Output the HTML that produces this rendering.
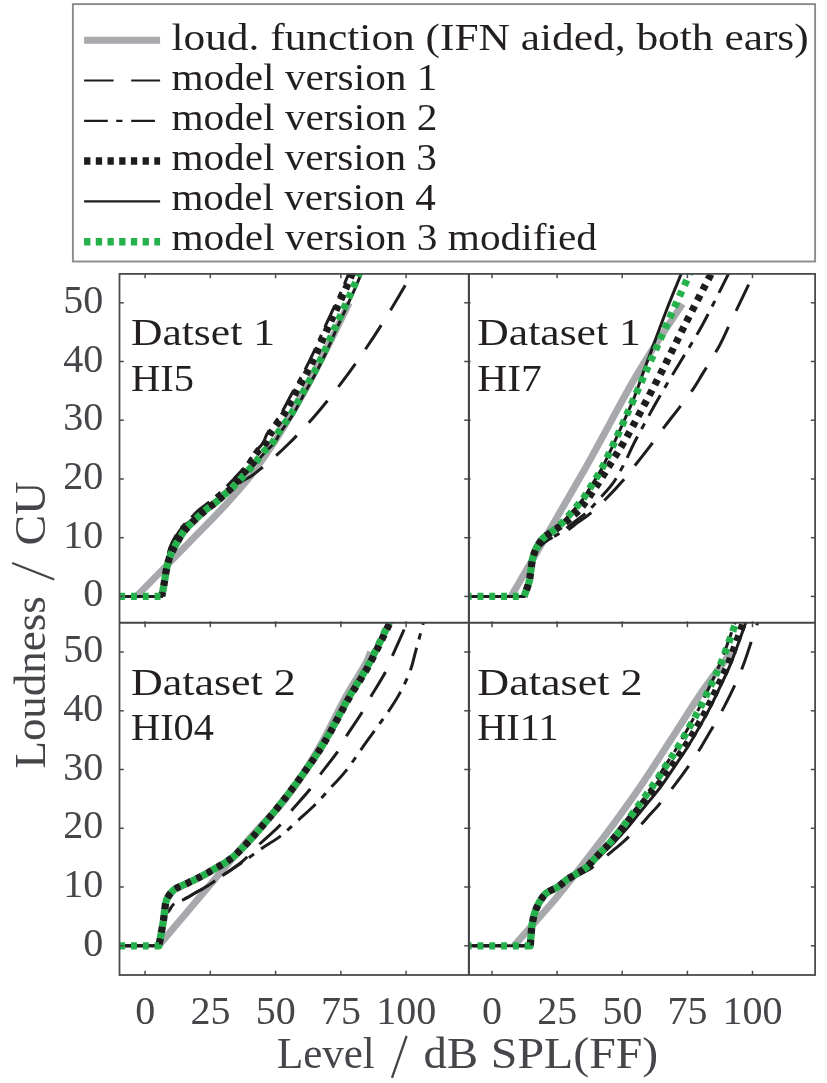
<!DOCTYPE html><html><head><meta charset="utf-8"><style>html,body{margin:0;padding:0;background:#fff;}svg{display:block;will-change:transform}</style></head><body>
<svg width="827" height="1083" viewBox="0 0 827 1083" font-family='"Liberation Serif", serif'>
<rect x="0" y="0" width="827" height="1083" fill="#fff"/>
<rect x="72.9" y="4.1" width="742.2" height="257.4" fill="#fff" stroke="#8b8c90" stroke-width="1.9"/>
<line x1="84.1" y1="40.2" x2="160.1" y2="40.2" stroke="#a7a9ac" stroke-width="7"/>
<line x1="84.1" y1="80.5" x2="160.1" y2="80.5" stroke="#1f1c1d" stroke-width="2.2" stroke-dasharray="29.5 17.6"/>
<line x1="84.1" y1="120.8" x2="160.1" y2="120.8" stroke="#1f1c1d" stroke-width="2.2" stroke-dasharray="23.7 8.4 6.3 8.7"/>
<line x1="84.1" y1="161.1" x2="160.1" y2="161.1" stroke="#1f1c1d" stroke-width="7.5" stroke-dasharray="6.3 5.4"/>
<line x1="84.1" y1="201.39999999999998" x2="160.1" y2="201.39999999999998" stroke="#1f1c1d" stroke-width="2.2"/>
<line x1="84.1" y1="241.7" x2="160.1" y2="241.7" stroke="#25b24c" stroke-width="7.5" stroke-dasharray="6.3 5.4"/>
<text x="171.4" y="50" font-size="37" fill="#231f20" textLength="637.3" lengthAdjust="spacingAndGlyphs">loud. function (IFN aided, both ears)</text>
<text x="171.4" y="90" font-size="37" fill="#231f20" textLength="266" lengthAdjust="spacingAndGlyphs">model version 1</text>
<text x="171.4" y="130" font-size="37" fill="#231f20" textLength="266" lengthAdjust="spacingAndGlyphs">model version 2</text>
<text x="171.4" y="170" font-size="37" fill="#231f20" textLength="265.5" lengthAdjust="spacingAndGlyphs">model version 3</text>
<text x="171.4" y="210" font-size="37" fill="#231f20" textLength="264.5" lengthAdjust="spacingAndGlyphs">model version 4</text>
<text x="171.4" y="250" font-size="37" fill="#231f20" textLength="425.5" lengthAdjust="spacingAndGlyphs">model version 3 modified</text>
<clipPath id="cp00"><rect x="119.5" y="273.9" width="349.4" height="348.9"/></clipPath>
<clipPath id="cp01"><rect x="468.9" y="273.9" width="346.20000000000005" height="348.9"/></clipPath>
<clipPath id="cp10"><rect x="119.5" y="622.8" width="349.4" height="352.20000000000005"/></clipPath>
<clipPath id="cp11"><rect x="468.9" y="622.8" width="346.20000000000005" height="352.20000000000005"/></clipPath>
<g clip-path="url(#cp00)" stroke-linejoin="round">
<path id="p00gray" d="M136.49,596.40C142.27,590.48 161.06,571.25 171.20,560.87C181.34,550.50 188.60,543.11 197.30,534.16C206.00,525.20 214.70,516.64 223.40,507.15C232.10,497.65 240.80,488.36 249.50,477.20C258.20,466.04 266.90,453.71 275.60,440.20C284.30,426.70 293.44,410.94 301.70,396.16C309.96,381.39 317.27,367.10 325.19,351.54C333.11,335.98 345.20,310.92 349.20,302.80" stroke="#a7a9ac" stroke-width="7" fill="none"/>
<path id="p00v1" d="M107.41,596.40L161.80,596.40C162.20,594.25 163.41,587.79 164.15,583.48C164.89,579.18 165.41,574.67 166.24,570.56C167.07,566.45 167.89,562.44 169.11,558.82C170.33,555.20 171.46,552.85 173.55,548.84C175.64,544.82 179.12,538.56 181.64,534.74C184.16,530.93 186.03,528.82 188.69,525.94C191.34,523.05 194.65,520.16 197.56,517.42C200.48,514.68 203.17,511.99 206.17,509.49C209.18,507.00 212.57,504.89 215.57,502.45C218.57,500.00 221.57,497.07 224.18,494.81C226.79,492.56 228.32,491.16 231.23,488.94C234.14,486.72 238.19,483.74 241.67,481.50C245.15,479.26 248.63,477.85 252.11,475.49C255.59,473.12 258.63,470.54 262.55,467.31C266.46,464.08 271.25,460.02 275.60,456.10C279.95,452.18 284.30,448.08 288.65,443.80C293.00,439.52 297.35,435.05 301.70,430.41C306.05,425.76 310.40,420.93 314.75,415.92C319.10,410.91 323.45,405.71 327.80,400.34C332.15,394.96 336.50,389.40 340.85,383.66C345.20,377.92 349.55,372.00 353.90,365.89C358.25,359.79 362.60,353.50 366.95,347.03C371.30,340.56 375.65,333.91 380.00,327.08C384.35,320.24 388.70,313.23 393.05,306.03C397.40,298.83 402.62,289.88 406.10,283.88C409.58,277.89 412.62,272.38 413.93,270.07" stroke="#1f1c1d" stroke-width="3" fill="none" stroke-dasharray="28.8 17.6" stroke-dashoffset="34.70"/>
<path id="p00v2" d="M107.41,596.40L161.80,596.40C162.20,594.25 163.41,587.79 164.15,583.48C164.89,579.18 165.54,574.67 166.24,570.56C166.94,566.45 167.80,562.44 168.36,558.82C168.92,555.20 168.27,552.85 169.60,548.84C170.93,544.82 174.12,538.56 176.35,534.74C178.57,530.93 180.45,528.82 182.94,525.94C185.44,523.05 188.56,520.16 191.31,517.42C194.07,514.68 196.55,511.99 199.46,509.49C202.37,507.00 205.79,504.89 208.78,502.45C211.77,500.00 214.53,497.36 217.40,494.81C220.27,492.27 223.27,489.82 226.01,487.18C228.75,484.54 231.27,481.70 233.84,478.96C236.41,476.22 238.98,473.58 241.41,470.74C243.84,467.90 246.13,465.06 248.43,461.93C250.73,458.80 252.81,455.08 255.22,451.95C257.64,448.82 260.82,446.37 262.92,443.14C265.03,439.91 264.89,437.37 267.83,432.57C270.77,427.78 276.52,420.93 280.56,414.37C284.59,407.81 288.22,400.18 292.04,393.23C295.87,386.28 299.92,379.53 303.53,372.68C307.14,365.83 310.49,358.98 313.71,352.12C316.92,345.27 319.75,338.42 322.84,331.57C325.93,324.72 328.97,318.17 332.24,311.02C335.50,303.88 339.46,295.46 342.42,288.71C345.37,281.95 348.72,273.54 349.99,270.50" stroke="#1f1c1d" stroke-width="3" fill="none" stroke-dasharray="23.7 8.4 6.3 8.7"/>
<path d="M161.80,596.40C162.20,594.25 163.41,587.79 164.15,583.48C164.89,579.18 165.41,574.67 166.24,570.56C167.07,566.45 167.89,562.44 169.11,558.82C170.33,555.20 171.46,552.85 173.55,548.84C175.64,544.82 179.12,538.56 181.64,534.74C184.16,530.93 186.03,528.82 188.69,525.94C191.34,523.05 194.65,520.16 197.56,517.42C200.48,514.68 203.17,511.99 206.17,509.49C209.18,507.00 212.57,504.89 215.57,502.45C218.57,500.00 221.41,497.36 224.18,494.81C226.95,492.27 229.79,489.82 232.20,487.18C234.60,484.54 236.53,481.70 238.62,478.96C240.72,476.22 242.75,473.58 244.79,470.74C246.83,467.90 248.75,465.06 250.86,461.93C252.97,458.80 254.97,455.08 257.43,451.95C259.90,448.82 263.36,446.37 265.66,443.14C267.95,439.91 268.14,437.37 271.19,432.57C274.24,427.78 279.91,420.93 283.95,414.37C287.99,407.81 291.61,400.18 295.44,393.23C299.26,386.28 303.31,379.53 306.92,372.68C310.53,365.83 313.88,358.98 317.10,352.12C320.32,345.27 323.15,338.42 326.23,331.57C329.32,324.72 332.37,318.17 335.63,311.02C338.89,303.88 342.85,295.46 345.81,288.71C348.77,281.95 352.12,273.54 353.38,270.50" stroke="#1f1c1d" stroke-width="7.3" fill="none" stroke-dasharray="5.9 5.9" stroke-dashoffset="1.29"/>
<path id="p00v4" d="M107.41,596.40L161.80,596.40C162.20,594.25 163.41,587.79 164.15,583.48C164.89,579.18 165.54,574.67 166.24,570.56C166.94,566.45 167.80,562.44 168.36,558.82C168.92,555.20 168.17,552.85 169.60,548.84C171.03,544.82 174.54,538.56 176.94,534.74C179.34,530.93 180.96,528.82 183.99,525.94C187.02,523.05 191.49,520.16 195.13,517.42C198.78,514.68 202.45,511.99 205.86,509.49C209.27,507.00 212.52,504.89 215.57,502.45C218.62,500.00 221.31,497.36 224.18,494.81C227.05,492.27 230.06,489.82 232.80,487.18C235.54,484.54 237.98,481.70 240.63,478.96C243.27,476.22 245.99,473.58 248.68,470.74C251.37,467.90 254.02,465.06 256.77,461.93C259.53,458.80 262.27,455.08 265.19,451.95C268.12,448.82 271.78,446.37 274.29,443.14C276.81,439.91 277.17,437.37 280.30,432.57C283.43,427.78 289.04,420.93 293.09,414.37C297.13,407.81 300.74,400.18 304.57,393.23C308.40,386.28 312.44,379.53 316.05,372.68C319.67,365.83 323.01,358.98 326.23,352.12C329.45,345.27 332.28,338.42 335.37,331.57C338.46,324.72 341.50,318.17 344.76,311.02C348.03,303.88 351.99,295.46 354.94,288.71C357.90,281.95 361.25,273.54 362.51,270.50" stroke="#1f1c1d" stroke-width="3" fill="none"/>
<path id="p00v3m" d="M107.41,596.40L161.80,596.40C162.20,594.25 163.41,587.79 164.15,583.48C164.89,579.18 165.41,574.67 166.24,570.56C167.07,566.45 167.89,562.44 169.11,558.82C170.33,555.20 171.46,552.85 173.55,548.84C175.64,544.82 179.12,538.56 181.64,534.74C184.16,530.93 186.03,528.82 188.69,525.94C191.34,523.05 194.65,520.16 197.56,517.42C200.48,514.68 203.17,511.99 206.17,509.49C209.18,507.00 212.57,504.89 215.57,502.45C218.57,500.00 221.31,497.36 224.18,494.81C227.05,492.27 230.06,489.82 232.80,487.18C235.54,484.54 238.06,481.70 240.63,478.96C243.19,476.22 245.67,473.58 248.19,470.74C250.72,467.90 253.20,465.06 255.76,461.93C258.33,458.80 260.85,455.08 263.59,451.95C266.33,448.82 269.77,446.37 272.21,443.14C274.64,439.91 275.08,437.37 278.21,432.57C281.34,427.78 286.95,420.93 291.00,414.37C295.04,407.81 298.65,400.18 302.48,393.23C306.31,386.28 310.36,379.53 313.97,372.68C317.58,365.83 320.93,358.98 324.15,352.12C327.36,345.27 330.19,338.42 333.28,331.57C336.37,324.72 339.41,318.17 342.68,311.02C345.94,303.88 349.90,295.46 352.86,288.71C355.81,281.95 359.16,273.54 360.42,270.50" stroke="#25b24c" stroke-width="7.3" fill="none" stroke-dasharray="5.9 5.9"/>
</g>
<g clip-path="url(#cp01)" stroke-linejoin="round">
<path id="p01gray" d="M511.02,596.40C523.22,575.36 563.16,507.24 584.22,470.15C605.27,433.06 620.99,401.55 637.36,373.85C653.73,346.15 674.91,315.62 682.43,303.97" stroke="#a7a9ac" stroke-width="7" fill="none"/>
<path id="p01v1" d="M460.74,596.40L524.04,596.40C524.87,594.05 527.86,586.61 528.99,582.31C530.12,578.00 530.12,574.48 530.81,570.56C531.51,566.65 532.03,562.34 533.16,558.82C534.29,555.30 535.72,552.16 537.59,549.42C539.45,546.68 541.97,544.33 544.36,542.38C546.75,540.42 549.35,539.15 551.91,537.68C554.48,536.21 557.08,534.84 559.73,533.57C562.38,532.30 564.77,531.91 567.81,530.05C570.84,528.19 574.36,525.06 577.97,522.41C581.57,519.77 584.87,518.01 589.43,514.19C593.99,510.38 599.76,505.09 605.32,499.51C610.87,493.93 617.91,486.30 622.77,480.72C627.63,475.14 629.93,471.82 634.49,466.04C639.05,460.27 645.04,452.73 650.12,446.08C655.20,439.42 660.07,432.57 664.97,426.11C669.88,419.65 674.87,413.49 679.56,407.32C684.25,401.16 689.29,394.70 693.11,389.12C696.93,383.54 698.10,381.09 702.48,373.85C706.87,366.61 714.81,354.08 719.42,345.67C724.02,337.25 725.41,333.14 730.10,323.35C734.79,313.57 743.38,295.75 747.55,286.95C751.72,278.14 753.85,273.24 755.11,270.50" stroke="#1f1c1d" stroke-width="3" fill="none" stroke-dasharray="28.8 17.6" stroke-dashoffset="36.10"/>
<path id="p01v2" d="M460.74,596.40L524.04,596.40C524.87,594.05 527.86,586.61 528.99,582.31C530.12,578.00 530.12,574.48 530.81,570.56C531.51,566.65 532.03,562.34 533.16,558.82C534.29,555.30 535.72,552.16 537.59,549.42C539.45,546.68 541.97,544.33 544.36,542.38C546.75,540.42 549.35,539.25 551.91,537.68C554.48,536.11 557.34,534.55 559.73,532.98C562.12,531.42 563.64,530.24 566.24,528.28C568.85,526.33 571.76,524.08 575.36,521.24C578.96,518.40 583.96,514.88 587.86,511.26C591.77,507.63 594.68,504.11 598.80,499.51C602.93,494.91 608.53,489.33 612.61,483.66C616.69,477.98 619.51,472.60 623.29,465.45C627.07,458.31 630.89,449.31 635.27,440.79C639.66,432.28 644.83,422.98 649.60,414.37C654.38,405.76 658.72,398.02 663.93,389.12C669.14,380.21 674.52,371.50 680.86,360.93C687.20,350.36 694.23,339.79 701.96,325.70C709.69,311.61 722.28,286.06 727.23,276.38C732.18,266.69 730.92,269.04 731.66,267.57" stroke="#1f1c1d" stroke-width="3" fill="none" stroke-dasharray="23.7 8.4 6.3 8.7" stroke-dashoffset="39.80"/>
<path d="M524.04,596.40C524.87,594.05 527.86,586.61 528.99,582.31C530.12,578.00 530.21,574.48 530.81,570.56C531.42,566.65 531.73,562.54 532.64,558.82C533.55,555.10 534.64,551.58 536.28,548.25C537.93,544.92 539.98,541.59 542.54,538.85C545.10,536.11 548.62,533.96 551.65,531.81C554.69,529.65 557.91,527.99 560.77,525.94C563.64,523.88 566.29,521.63 568.85,519.48C571.41,517.32 573.71,515.46 576.14,513.02C578.57,510.57 580.22,509.01 583.44,504.80C586.65,500.59 591.03,494.42 595.42,487.77C599.80,481.11 604.93,472.60 609.75,464.87C614.57,457.14 619.12,450.38 624.33,441.38C629.54,432.38 634.62,422.78 641.01,410.84C647.39,398.91 655.33,384.03 662.63,369.74C669.92,355.45 676.91,340.67 684.77,325.11C692.63,309.55 705.00,285.67 709.78,276.38C714.55,267.08 712.82,270.50 713.42,269.33" stroke="#1f1c1d" stroke-width="7.3" fill="none" stroke-dasharray="5.9 5.9" stroke-dashoffset="5.25"/>
<path id="p01v4" d="M465.69,596.40L524.04,596.40C524.87,594.05 527.86,586.61 528.99,582.31C530.12,578.00 530.21,574.48 530.81,570.56C531.42,566.65 531.73,562.54 532.64,558.82C533.55,555.10 534.64,551.58 536.28,548.25C537.93,544.92 539.98,541.59 542.54,538.85C545.10,536.11 548.62,534.25 551.65,531.81C554.69,529.36 557.91,526.91 560.77,524.17C563.64,521.43 566.29,518.20 568.85,515.37C571.41,512.53 573.71,509.98 576.14,507.15C578.57,504.31 581.18,501.47 583.44,498.34C585.69,495.21 587.60,491.68 589.69,488.36C591.77,485.03 593.81,481.90 595.94,478.37C598.07,474.85 599.67,472.60 602.45,467.22C605.23,461.83 609.31,453.12 612.61,446.08C615.91,439.03 619.34,431.40 622.25,424.94C625.16,418.48 628.02,412.02 630.07,407.32C632.11,402.62 632.24,402.72 634.49,396.75C636.75,390.78 640.75,379.33 643.61,371.50C646.48,363.67 647.78,360.25 651.69,349.78C655.59,339.30 662.15,321.30 667.06,308.67C671.96,296.05 678.39,280.88 681.12,274.03C683.86,267.18 683.08,268.64 683.47,267.57" stroke="#1f1c1d" stroke-width="3" fill="none"/>
<path id="p01v3m" d="M465.69,596.40L524.04,596.40C524.87,594.05 527.86,586.61 528.99,582.31C530.12,578.00 530.21,574.48 530.81,570.56C531.42,566.65 531.73,562.54 532.64,558.82C533.55,555.10 534.64,551.58 536.28,548.25C537.93,544.92 539.98,541.59 542.54,538.85C545.10,536.11 548.62,534.25 551.65,531.81C554.69,529.36 557.91,526.91 560.77,524.17C563.64,521.43 566.29,518.20 568.85,515.37C571.41,512.53 573.71,509.98 576.14,507.15C578.57,504.31 581.18,501.47 583.44,498.34C585.69,495.21 587.60,491.68 589.69,488.36C591.77,485.03 593.81,481.90 595.94,478.37C598.07,474.85 599.67,472.60 602.45,467.22C605.23,461.83 609.31,453.12 612.61,446.08C615.91,439.03 619.34,431.40 622.25,424.94C625.16,418.48 626.16,416.13 630.07,407.32C633.97,398.51 640.48,383.83 645.69,372.09C650.90,360.35 656.55,347.62 661.33,336.86C666.10,326.09 669.92,317.38 674.35,307.50C678.78,297.61 685.29,283.72 687.90,277.55C690.50,271.38 689.63,271.68 689.98,270.50" stroke="#25b24c" stroke-width="7.3" fill="none" stroke-dasharray="5.9 5.9"/>
</g>
<g clip-path="url(#cp10)" stroke-linejoin="round">
<path id="p10gray" d="M158.67,945.80C173.59,928.17 227.84,863.54 248.19,840.03C268.55,816.53 271.90,815.45 280.82,804.78C289.74,794.10 294.83,786.36 301.70,775.98C308.57,765.60 314.75,755.61 322.06,742.49C329.37,729.37 338.46,710.07 345.55,697.25C352.64,684.42 360.43,673.06 364.60,665.51C368.78,657.97 369.60,654.25 370.60,652.00" stroke="#a7a9ac" stroke-width="7" fill="none"/>
<path id="p10v1" d="M113.78,945.80L158.93,945.80C159.32,943.65 160.54,936.79 161.28,932.87C162.02,928.96 162.59,925.53 163.37,922.30C164.15,919.06 165.07,915.34 165.98,913.48C166.89,911.62 167.55,912.70 168.85,911.13C170.16,909.56 171.29,906.04 173.81,904.08C176.33,902.12 180.07,901.44 183.99,899.38C187.90,897.32 193.34,893.99 197.30,891.74C201.26,889.49 203.17,888.80 207.74,885.86C212.31,882.93 218.79,878.32 224.70,874.11C230.62,869.90 237.54,865.49 243.24,860.60C248.93,855.70 252.89,850.51 258.90,844.73C264.90,838.95 273.90,831.51 279.25,825.93C284.60,820.35 285.91,817.31 291.00,811.24C296.09,805.17 304.96,795.57 309.79,789.50C314.62,783.43 315.36,781.08 319.97,774.81C324.58,768.54 333.11,758.26 337.46,751.89C341.81,745.53 341.98,743.18 346.07,736.61C350.16,730.05 357.86,719.18 361.99,712.52C366.12,705.86 366.99,703.32 370.87,696.66C374.74,690.00 381.61,679.42 385.22,672.57C388.83,665.71 389.35,662.77 392.53,655.53C395.70,648.28 401.79,635.06 404.27,629.08C406.75,623.11 406.88,621.25 407.40,619.68" stroke="#1f1c1d" stroke-width="3" fill="none" stroke-dasharray="28.8 17.6" stroke-dashoffset="36.10"/>
<path id="p10v2" d="M113.78,945.80L158.93,945.80C159.32,943.65 160.54,936.79 161.28,932.87C162.02,928.96 162.59,925.53 163.37,922.30C164.15,919.06 165.07,915.34 165.98,913.48C166.89,911.62 167.55,912.70 168.85,911.13C170.16,909.56 171.29,906.04 173.81,904.08C176.33,902.12 180.07,901.44 183.99,899.38C187.90,897.32 193.34,893.99 197.30,891.74C201.26,889.49 203.17,888.80 207.74,885.86C212.31,882.93 218.79,878.13 224.70,874.11C230.62,870.10 237.02,866.08 243.24,861.77C249.46,857.46 255.76,852.57 262.03,848.26C268.29,843.95 274.77,840.62 280.82,835.92C286.87,831.22 292.52,825.34 298.31,820.05C304.09,814.77 309.97,809.77 315.53,804.19C321.10,798.61 326.63,792.14 331.71,786.56C336.80,780.98 340.28,778.14 346.07,770.70C351.86,763.25 359.42,751.70 366.43,741.90C373.43,732.11 382.52,720.06 388.09,711.94C393.66,703.81 396.18,699.89 399.84,693.13C403.49,686.37 407.36,678.44 410.01,671.39C412.67,664.34 413.58,658.76 415.76,650.82C417.93,642.89 421.63,629.48 423.06,623.80C424.50,618.12 424.15,617.92 424.37,616.74" stroke="#1f1c1d" stroke-width="3" fill="none" stroke-dasharray="23.7 8.4 6.3 8.7" stroke-dashoffset="41.40"/>
<path d="M158.93,945.80C159.32,943.65 160.54,936.99 161.28,932.87C162.02,928.76 162.80,924.84 163.37,921.12C163.94,917.40 164.11,914.17 164.67,910.54C165.24,906.92 165.24,902.81 166.76,899.38C168.29,895.95 170.94,892.43 173.81,889.98C176.68,887.53 180.60,886.35 183.99,884.69C187.38,883.02 190.78,881.65 194.17,879.99C197.56,878.32 200.95,876.56 204.35,874.70C207.74,872.84 211.13,870.78 214.53,868.82C217.92,866.87 221.40,865.10 224.70,862.95C228.01,860.79 230.88,858.93 234.36,855.90C237.84,852.86 241.50,849.04 245.58,844.73C249.67,840.42 253.02,836.90 258.90,830.04C264.77,823.19 273.56,812.81 280.82,803.60C288.08,794.40 295.23,784.99 302.48,774.81C309.73,764.62 316.50,755.42 324.33,742.49C332.15,729.56 342.03,710.07 349.42,697.25C356.82,684.42 362.11,677.56 368.69,665.51C375.26,653.47 385.12,632.61 388.87,624.97C392.63,617.33 390.83,620.56 391.22,619.68" stroke="#1f1c1d" stroke-width="7.3" fill="none" stroke-dasharray="5.9 5.9" stroke-dashoffset="10.22"/>
<path id="p10v4" d="M107.41,945.80L158.93,945.80C159.32,943.65 160.54,936.99 161.28,932.87C162.02,928.76 162.80,924.84 163.37,921.12C163.94,917.40 164.11,914.17 164.67,910.54C165.24,906.92 165.24,902.81 166.76,899.38C168.29,895.95 170.94,892.43 173.81,889.98C176.68,887.53 180.60,886.35 183.99,884.69C187.38,883.02 190.78,881.65 194.17,879.99C197.56,878.32 200.95,876.56 204.35,874.70C207.74,872.84 211.13,870.78 214.53,868.82C217.92,866.87 221.40,865.10 224.70,862.95C228.01,860.79 230.88,858.93 234.36,855.90C237.84,852.86 241.50,849.04 245.58,844.73C249.67,840.42 253.02,836.90 258.90,830.04C264.77,823.19 273.56,812.81 280.82,803.60C288.08,794.40 295.20,784.99 302.48,774.81C309.76,764.62 316.60,755.42 324.51,742.49C332.41,729.56 342.43,710.07 349.90,697.25C357.38,684.42 362.75,677.56 369.38,665.51C376.01,653.47 385.89,632.61 389.66,624.97C393.43,617.33 391.61,620.56 392.01,619.68" stroke="#1f1c1d" stroke-width="3" fill="none"/>
<path id="p10v3m" d="M107.41,945.80L158.93,945.80C159.32,943.65 160.54,936.99 161.28,932.87C162.02,928.76 162.80,924.84 163.37,921.12C163.94,917.40 164.11,914.17 164.67,910.54C165.24,906.92 165.24,902.81 166.76,899.38C168.29,895.95 170.94,892.43 173.81,889.98C176.68,887.53 180.60,886.35 183.99,884.69C187.38,883.02 190.78,881.65 194.17,879.99C197.56,878.32 200.95,876.56 204.35,874.70C207.74,872.84 211.13,870.78 214.53,868.82C217.92,866.87 221.40,865.10 224.70,862.95C228.01,860.79 230.88,858.93 234.36,855.90C237.84,852.86 241.50,849.04 245.58,844.73C249.67,840.42 253.02,836.90 258.90,830.04C264.77,823.19 273.56,812.81 280.82,803.60C288.08,794.40 295.26,784.99 302.48,774.81C309.70,764.62 316.40,755.42 324.15,742.49C331.89,729.56 341.63,710.07 348.94,697.25C356.25,684.42 361.47,677.56 367.99,665.51C374.52,653.47 384.35,632.61 388.09,624.97C391.83,617.33 390.05,620.56 390.44,619.68" stroke="#25b24c" stroke-width="7.3" fill="none" stroke-dasharray="5.9 5.9"/>
</g>
<g clip-path="url(#cp11)" stroke-linejoin="round">
<path id="p11gray" d="M513.88,945.80C520.65,938.16 542.93,913.68 554.52,899.97C566.11,886.26 573.75,875.97 583.44,863.54C593.12,851.10 602.93,838.47 612.61,825.34C622.29,812.22 631.67,799.29 641.53,784.80C651.38,770.30 661.50,754.14 671.75,738.38C681.99,722.61 693.02,704.59 703.00,690.19C712.99,675.80 726.88,658.37 731.66,652.00" stroke="#a7a9ac" stroke-width="7" fill="none"/>
<path id="p11v1" d="M465.69,945.80L530.29,945.80C530.42,944.04 530.77,938.75 531.08,935.22C531.38,931.70 531.51,928.37 532.12,924.65C532.72,920.92 533.46,916.71 534.72,912.89C535.98,909.07 537.67,905.06 539.67,901.73C541.67,898.40 543.49,895.36 546.71,892.92C549.92,890.47 555.17,889.19 558.95,887.04C562.73,884.89 565.80,882.14 569.37,879.99C572.94,877.83 576.59,876.17 580.36,874.11C584.13,872.06 588.33,870.10 591.98,867.65C595.63,865.20 598.77,862.26 602.24,859.42C605.72,856.58 609.41,853.45 612.82,850.61C616.23,847.77 619.50,845.22 622.70,842.38C625.90,839.54 628.90,836.60 632.02,833.57C635.13,830.53 638.43,827.30 641.40,824.17C644.36,821.03 646.97,817.90 649.80,814.77C652.63,811.63 654.42,810.06 658.36,805.36C662.31,800.66 668.51,793.02 673.49,786.56C678.46,780.10 683.62,773.14 688.20,766.58C692.78,760.02 696.85,753.85 700.99,747.19C705.13,740.53 709.14,733.38 713.02,726.63C716.89,719.87 720.64,713.50 724.25,706.65C727.87,699.79 731.39,692.84 734.73,685.49C738.06,678.15 740.94,671.59 744.25,662.58C747.56,653.57 752.17,638.58 754.58,631.43C757.00,624.28 758.06,621.64 758.75,619.68" stroke="#1f1c1d" stroke-width="3" fill="none" stroke-dasharray="28.8 17.6" stroke-dashoffset="39.20"/>
<path id="p11v2" d="M465.69,945.80L530.29,945.80C530.42,944.04 530.77,938.75 531.08,935.22C531.38,931.70 531.51,928.37 532.12,924.65C532.72,920.92 533.46,916.71 534.72,912.89C535.98,909.07 537.67,905.06 539.67,901.73C541.67,898.40 543.59,895.36 546.71,892.92C549.82,890.47 554.79,889.19 558.34,887.04C561.90,884.89 564.71,882.14 568.03,879.99C571.35,877.83 574.87,876.17 578.25,874.11C581.63,872.06 585.24,870.10 588.29,867.65C591.34,865.20 593.77,862.26 596.55,859.42C599.33,856.58 602.37,853.45 604.97,850.61C607.56,847.77 609.84,845.22 612.14,842.38C614.44,839.54 616.52,836.60 618.75,833.57C620.98,830.53 623.31,827.30 625.53,824.17C627.74,821.03 629.83,817.90 632.05,814.77C634.27,811.63 635.53,810.06 638.83,805.36C642.14,800.66 647.57,793.02 651.88,786.56C656.19,780.10 660.49,773.14 664.71,766.58C668.93,760.02 673.18,753.85 677.22,747.19C681.25,740.53 685.16,733.38 688.94,726.63C692.72,719.87 696.36,713.50 699.88,706.65C703.40,699.79 706.61,692.84 710.04,685.49C713.47,678.15 716.81,671.59 720.46,662.58C724.11,653.57 729.32,638.58 731.92,631.43C734.53,624.28 735.39,621.64 736.09,619.68" stroke="#1f1c1d" stroke-width="3" fill="none" stroke-dasharray="23.7 8.4 6.3 8.7"/>
<path d="M530.29,945.80C530.42,944.04 530.77,938.75 531.08,935.22C531.38,931.70 531.51,928.37 532.12,924.65C532.72,920.92 533.46,916.71 534.72,912.89C535.98,909.07 537.67,905.06 539.67,901.73C541.67,898.40 543.71,895.36 546.71,892.92C549.70,890.47 554.35,889.19 557.65,887.04C560.95,884.89 563.42,882.14 566.50,879.99C569.59,877.83 572.89,876.17 576.14,874.11C579.40,872.06 583.04,870.10 586.04,867.65C589.04,865.20 591.38,862.26 594.12,859.42C596.85,856.58 599.76,853.45 602.45,850.61C605.14,847.77 607.75,845.22 610.27,842.38C612.79,839.54 615.05,836.60 617.56,833.57C620.07,830.53 622.73,827.30 625.34,824.17C627.95,821.03 630.54,817.90 633.21,814.77C635.88,811.63 637.37,810.06 641.35,805.36C645.32,800.66 652.07,793.02 657.05,786.56C662.04,780.10 666.67,773.14 671.27,766.58C675.87,760.02 680.34,753.85 684.68,747.19C689.01,740.53 693.35,733.38 697.27,726.63C701.20,719.87 704.70,713.50 708.22,706.65C711.73,699.79 714.94,692.84 718.37,685.49C721.80,678.15 725.15,671.59 728.79,662.58C732.44,653.57 737.65,638.58 740.26,631.43C742.86,624.28 743.73,621.64 744.42,619.68" stroke="#1f1c1d" stroke-width="7.3" fill="none" stroke-dasharray="5.9 5.9" stroke-dashoffset="11.50"/>
<path id="p11v4" d="M465.69,945.80L530.29,945.80C530.42,944.04 530.77,938.75 531.08,935.22C531.38,931.70 531.51,928.37 532.12,924.65C532.72,920.92 533.46,916.71 534.72,912.89C535.98,909.07 537.67,905.06 539.67,901.73C541.67,898.40 543.71,895.36 546.71,892.92C549.70,890.47 554.35,889.19 557.65,887.04C560.95,884.89 563.39,882.14 566.50,879.99C569.61,877.83 572.87,876.17 576.30,874.11C579.72,872.06 583.74,870.10 587.06,867.65C590.38,865.20 593.12,862.26 596.23,859.42C599.33,856.58 602.68,853.45 605.68,850.61C608.68,847.77 611.46,845.22 614.23,842.38C617.00,839.54 619.61,836.60 622.30,833.57C625.00,830.53 627.80,827.30 630.40,824.17C633.01,821.03 635.39,817.90 637.95,814.77C640.51,811.63 641.95,810.06 645.76,805.36C649.57,800.66 656.02,793.02 660.82,786.56C665.61,780.10 670.10,773.14 674.55,766.58C678.99,760.02 683.30,753.85 687.48,747.19C691.66,740.53 695.77,733.38 699.62,726.63C703.47,719.87 707.04,713.50 710.56,706.65C714.08,699.79 717.29,692.84 720.72,685.49C724.15,678.15 727.49,671.59 731.14,662.58C734.79,653.57 740.00,638.58 742.60,631.43C745.21,624.28 746.07,621.64 746.77,619.68" stroke="#1f1c1d" stroke-width="3" fill="none"/>
<path id="p11v3m" d="M465.69,945.80L530.29,945.80C530.42,944.04 530.77,938.75 531.08,935.22C531.38,931.70 531.51,928.37 532.12,924.65C532.72,920.92 533.46,916.71 534.72,912.89C535.98,909.07 537.67,905.06 539.67,901.73C541.67,898.40 543.71,895.36 546.71,892.92C549.70,890.47 554.35,889.19 557.65,887.04C560.95,884.89 563.42,882.14 566.50,879.99C569.59,877.83 572.89,876.17 576.14,874.11C579.40,872.06 583.04,870.10 586.04,867.65C589.04,865.20 591.38,862.26 594.12,859.42C596.85,856.58 599.76,853.45 602.45,850.61C605.14,847.77 607.75,845.22 610.27,842.38C612.79,839.54 615.13,836.60 617.56,833.57C619.99,830.53 622.51,827.30 624.86,824.17C627.20,821.03 629.33,817.90 631.63,814.77C633.93,811.63 635.23,810.06 638.66,805.36C642.09,800.66 647.74,793.02 652.21,786.56C656.68,780.10 661.19,773.14 665.49,766.58C669.79,760.02 673.96,753.85 678.00,747.19C682.03,740.53 685.94,733.38 689.72,726.63C693.50,719.87 697.14,713.50 700.66,706.65C704.18,699.79 707.39,692.84 710.82,685.49C714.25,678.15 717.59,671.59 721.24,662.58C724.89,653.57 730.10,638.58 732.70,631.43C735.31,624.28 736.18,621.64 736.87,619.68" stroke="#25b24c" stroke-width="7.3" fill="none" stroke-dasharray="5.9 5.9"/>
</g>
<line x1="145.1" y1="273.9" x2="145.1" y2="278.2" stroke="#4a4b4f" stroke-width="1.5"/>
<line x1="145.1" y1="975.0" x2="145.1" y2="970.7" stroke="#4a4b4f" stroke-width="1.5"/>
<line x1="145.1" y1="621.3" x2="145.1" y2="627.2" stroke="#4a4b4f" stroke-width="1.5"/>
<line x1="210.3" y1="273.9" x2="210.3" y2="278.2" stroke="#4a4b4f" stroke-width="1.5"/>
<line x1="210.3" y1="975.0" x2="210.3" y2="970.7" stroke="#4a4b4f" stroke-width="1.5"/>
<line x1="210.3" y1="621.3" x2="210.3" y2="627.2" stroke="#4a4b4f" stroke-width="1.5"/>
<line x1="275.6" y1="273.9" x2="275.6" y2="278.2" stroke="#4a4b4f" stroke-width="1.5"/>
<line x1="275.6" y1="975.0" x2="275.6" y2="970.7" stroke="#4a4b4f" stroke-width="1.5"/>
<line x1="275.6" y1="621.3" x2="275.6" y2="627.2" stroke="#4a4b4f" stroke-width="1.5"/>
<line x1="340.9" y1="273.9" x2="340.9" y2="278.2" stroke="#4a4b4f" stroke-width="1.5"/>
<line x1="340.9" y1="975.0" x2="340.9" y2="970.7" stroke="#4a4b4f" stroke-width="1.5"/>
<line x1="340.9" y1="621.3" x2="340.9" y2="627.2" stroke="#4a4b4f" stroke-width="1.5"/>
<line x1="406.1" y1="273.9" x2="406.1" y2="278.2" stroke="#4a4b4f" stroke-width="1.5"/>
<line x1="406.1" y1="975.0" x2="406.1" y2="970.7" stroke="#4a4b4f" stroke-width="1.5"/>
<line x1="406.1" y1="621.3" x2="406.1" y2="627.2" stroke="#4a4b4f" stroke-width="1.5"/>
<line x1="492.0" y1="273.9" x2="492.0" y2="278.2" stroke="#4a4b4f" stroke-width="1.5"/>
<line x1="492.0" y1="975.0" x2="492.0" y2="970.7" stroke="#4a4b4f" stroke-width="1.5"/>
<line x1="492.0" y1="621.3" x2="492.0" y2="627.2" stroke="#4a4b4f" stroke-width="1.5"/>
<line x1="557.1" y1="273.9" x2="557.1" y2="278.2" stroke="#4a4b4f" stroke-width="1.5"/>
<line x1="557.1" y1="975.0" x2="557.1" y2="970.7" stroke="#4a4b4f" stroke-width="1.5"/>
<line x1="557.1" y1="621.3" x2="557.1" y2="627.2" stroke="#4a4b4f" stroke-width="1.5"/>
<line x1="622.2" y1="273.9" x2="622.2" y2="278.2" stroke="#4a4b4f" stroke-width="1.5"/>
<line x1="622.2" y1="975.0" x2="622.2" y2="970.7" stroke="#4a4b4f" stroke-width="1.5"/>
<line x1="622.2" y1="621.3" x2="622.2" y2="627.2" stroke="#4a4b4f" stroke-width="1.5"/>
<line x1="687.4" y1="273.9" x2="687.4" y2="278.2" stroke="#4a4b4f" stroke-width="1.5"/>
<line x1="687.4" y1="975.0" x2="687.4" y2="970.7" stroke="#4a4b4f" stroke-width="1.5"/>
<line x1="687.4" y1="621.3" x2="687.4" y2="627.2" stroke="#4a4b4f" stroke-width="1.5"/>
<line x1="752.5" y1="273.9" x2="752.5" y2="278.2" stroke="#4a4b4f" stroke-width="1.5"/>
<line x1="752.5" y1="975.0" x2="752.5" y2="970.7" stroke="#4a4b4f" stroke-width="1.5"/>
<line x1="752.5" y1="621.3" x2="752.5" y2="627.2" stroke="#4a4b4f" stroke-width="1.5"/>
<line x1="119.5" y1="596.4" x2="123.8" y2="596.4" stroke="#4a4b4f" stroke-width="1.5"/>
<line x1="815.1" y1="596.4" x2="810.8000000000001" y2="596.4" stroke="#4a4b4f" stroke-width="1.5"/>
<line x1="464.2" y1="596.4" x2="470.6" y2="596.4" stroke="#4a4b4f" stroke-width="1.5"/>
<line x1="119.5" y1="537.7" x2="123.8" y2="537.7" stroke="#4a4b4f" stroke-width="1.5"/>
<line x1="815.1" y1="537.7" x2="810.8000000000001" y2="537.7" stroke="#4a4b4f" stroke-width="1.5"/>
<line x1="464.2" y1="537.7" x2="470.6" y2="537.7" stroke="#4a4b4f" stroke-width="1.5"/>
<line x1="119.5" y1="479.0" x2="123.8" y2="479.0" stroke="#4a4b4f" stroke-width="1.5"/>
<line x1="815.1" y1="479.0" x2="810.8000000000001" y2="479.0" stroke="#4a4b4f" stroke-width="1.5"/>
<line x1="464.2" y1="479.0" x2="470.6" y2="479.0" stroke="#4a4b4f" stroke-width="1.5"/>
<line x1="119.5" y1="420.2" x2="123.8" y2="420.2" stroke="#4a4b4f" stroke-width="1.5"/>
<line x1="815.1" y1="420.2" x2="810.8000000000001" y2="420.2" stroke="#4a4b4f" stroke-width="1.5"/>
<line x1="464.2" y1="420.2" x2="470.6" y2="420.2" stroke="#4a4b4f" stroke-width="1.5"/>
<line x1="119.5" y1="361.5" x2="123.8" y2="361.5" stroke="#4a4b4f" stroke-width="1.5"/>
<line x1="815.1" y1="361.5" x2="810.8000000000001" y2="361.5" stroke="#4a4b4f" stroke-width="1.5"/>
<line x1="464.2" y1="361.5" x2="470.6" y2="361.5" stroke="#4a4b4f" stroke-width="1.5"/>
<line x1="119.5" y1="302.8" x2="123.8" y2="302.8" stroke="#4a4b4f" stroke-width="1.5"/>
<line x1="815.1" y1="302.8" x2="810.8000000000001" y2="302.8" stroke="#4a4b4f" stroke-width="1.5"/>
<line x1="464.2" y1="302.8" x2="470.6" y2="302.8" stroke="#4a4b4f" stroke-width="1.5"/>
<line x1="119.5" y1="945.8" x2="123.8" y2="945.8" stroke="#4a4b4f" stroke-width="1.5"/>
<line x1="815.1" y1="945.8" x2="810.8000000000001" y2="945.8" stroke="#4a4b4f" stroke-width="1.5"/>
<line x1="464.2" y1="945.8" x2="470.6" y2="945.8" stroke="#4a4b4f" stroke-width="1.5"/>
<line x1="119.5" y1="887.0" x2="123.8" y2="887.0" stroke="#4a4b4f" stroke-width="1.5"/>
<line x1="815.1" y1="887.0" x2="810.8000000000001" y2="887.0" stroke="#4a4b4f" stroke-width="1.5"/>
<line x1="464.2" y1="887.0" x2="470.6" y2="887.0" stroke="#4a4b4f" stroke-width="1.5"/>
<line x1="119.5" y1="828.3" x2="123.8" y2="828.3" stroke="#4a4b4f" stroke-width="1.5"/>
<line x1="815.1" y1="828.3" x2="810.8000000000001" y2="828.3" stroke="#4a4b4f" stroke-width="1.5"/>
<line x1="464.2" y1="828.3" x2="470.6" y2="828.3" stroke="#4a4b4f" stroke-width="1.5"/>
<line x1="119.5" y1="769.5" x2="123.8" y2="769.5" stroke="#4a4b4f" stroke-width="1.5"/>
<line x1="815.1" y1="769.5" x2="810.8000000000001" y2="769.5" stroke="#4a4b4f" stroke-width="1.5"/>
<line x1="464.2" y1="769.5" x2="470.6" y2="769.5" stroke="#4a4b4f" stroke-width="1.5"/>
<line x1="119.5" y1="710.8" x2="123.8" y2="710.8" stroke="#4a4b4f" stroke-width="1.5"/>
<line x1="815.1" y1="710.8" x2="810.8000000000001" y2="710.8" stroke="#4a4b4f" stroke-width="1.5"/>
<line x1="464.2" y1="710.8" x2="470.6" y2="710.8" stroke="#4a4b4f" stroke-width="1.5"/>
<line x1="119.5" y1="652.0" x2="123.8" y2="652.0" stroke="#4a4b4f" stroke-width="1.5"/>
<line x1="815.1" y1="652.0" x2="810.8000000000001" y2="652.0" stroke="#4a4b4f" stroke-width="1.5"/>
<line x1="464.2" y1="652.0" x2="470.6" y2="652.0" stroke="#4a4b4f" stroke-width="1.5"/>
<rect x="119.5" y="273.9" width="695.6" height="701.1" fill="none" stroke="#4a4b4f" stroke-width="1.8"/>
<line x1="468.9" y1="273.9" x2="468.9" y2="975.0" stroke="#434448" stroke-width="2.1"/>
<line x1="119.5" y1="622.8" x2="815.1" y2="622.8" stroke="#434448" stroke-width="2.1"/>
<text x="103.2" y="606.4" font-size="40" fill="#45464a" text-anchor="end">0</text>
<text x="103.2" y="547.7" font-size="40" fill="#45464a" text-anchor="end">10</text>
<text x="103.2" y="489.0" font-size="40" fill="#45464a" text-anchor="end">20</text>
<text x="103.2" y="430.2" font-size="40" fill="#45464a" text-anchor="end">30</text>
<text x="103.2" y="371.5" font-size="40" fill="#45464a" text-anchor="end">40</text>
<text x="103.2" y="312.8" font-size="40" fill="#45464a" text-anchor="end">50</text>
<text x="103.2" y="955.8" font-size="40" fill="#45464a" text-anchor="end">0</text>
<text x="103.2" y="897.0" font-size="40" fill="#45464a" text-anchor="end">10</text>
<text x="103.2" y="838.3" font-size="40" fill="#45464a" text-anchor="end">20</text>
<text x="103.2" y="779.5" font-size="40" fill="#45464a" text-anchor="end">30</text>
<text x="103.2" y="720.8" font-size="40" fill="#45464a" text-anchor="end">40</text>
<text x="103.2" y="662.0" font-size="40" fill="#45464a" text-anchor="end">50</text>
<text x="145.2" y="1023.6" font-size="40" fill="#45464a" text-anchor="middle">0</text>
<text x="210.4" y="1023.6" font-size="40" fill="#45464a" text-anchor="middle">25</text>
<text x="275.7" y="1023.6" font-size="40" fill="#45464a" text-anchor="middle">50</text>
<text x="341.0" y="1023.6" font-size="40" fill="#45464a" text-anchor="middle">75</text>
<text x="406.2" y="1023.6" font-size="40" fill="#45464a" text-anchor="middle">100</text>
<text x="492.1" y="1023.6" font-size="40" fill="#45464a" text-anchor="middle">0</text>
<text x="557.2" y="1023.6" font-size="40" fill="#45464a" text-anchor="middle">25</text>
<text x="622.4" y="1023.6" font-size="40" fill="#45464a" text-anchor="middle">50</text>
<text x="687.5" y="1023.6" font-size="40" fill="#45464a" text-anchor="middle">75</text>
<text x="752.6" y="1023.6" font-size="40" fill="#45464a" text-anchor="middle">100</text>
<text x="276.9" y="1068.2" font-size="44" fill="#45464a" textLength="97.9" lengthAdjust="spacingAndGlyphs">Level</text>
<text x="423.6" y="1068.2" font-size="44" fill="#45464a" textLength="54.4" lengthAdjust="spacingAndGlyphs">dB</text>
<text x="490.8" y="1068.2" font-size="44" fill="#45464a" textLength="167.5" lengthAdjust="spacingAndGlyphs">SPL(FF)</text>
<line x1="392.0" y1="1077.8" x2="406.6" y2="1036.0" stroke="#45464a" stroke-width="2.3"/>
<text transform="translate(44.7,766.8) rotate(-90)" x="-1.8" y="0" font-size="44" fill="#45464a" textLength="172.4" lengthAdjust="spacingAndGlyphs">Loudness</text>
<text transform="translate(44.7,766.8) rotate(-90)" x="221.3" y="0" font-size="44" fill="#45464a" textLength="63.8" lengthAdjust="spacingAndGlyphs">CU</text>
<line x1="54.2" y1="579.5" x2="12.2" y2="563.0" stroke="#45464a" stroke-width="2.3"/>
<text x="131.0" y="345.3" font-size="38" fill="#231f20" textLength="143.9" lengthAdjust="spacingAndGlyphs">Datset 1</text>
<text x="131.0" y="391.0" font-size="38" fill="#231f20" textLength="62.9" lengthAdjust="spacingAndGlyphs">HI5</text>
<text x="477.3" y="345.3" font-size="38" fill="#231f20" textLength="163.5" lengthAdjust="spacingAndGlyphs">Dataset 1</text>
<text x="477.3" y="391.0" font-size="38" fill="#231f20" textLength="64.4" lengthAdjust="spacingAndGlyphs">HI7</text>
<text x="131.0" y="694.6" font-size="38" fill="#231f20" textLength="164.8" lengthAdjust="spacingAndGlyphs">Dataset 2</text>
<text x="131.0" y="740.3" font-size="38" fill="#231f20" textLength="82.9" lengthAdjust="spacingAndGlyphs">HI04</text>
<text x="477.3" y="694.6" font-size="38" fill="#231f20" textLength="165.3" lengthAdjust="spacingAndGlyphs">Dataset 2</text>
<text x="477.3" y="740.3" font-size="38" fill="#231f20" textLength="81.2" lengthAdjust="spacingAndGlyphs">HI11</text>
</svg></body></html>
